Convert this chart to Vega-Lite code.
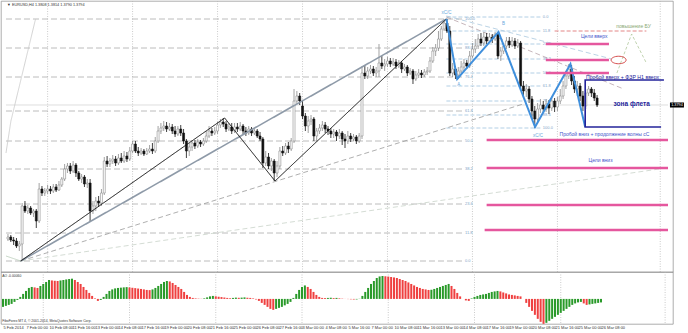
{
"$schema":"https://vega.github.io/schema/vega-lite/v6.json",
"padding":0,
"background":"white",
"spacing":0,
"bounds":"flush",
"config":{"font":"Liberation Sans","view":{"stroke":"#8a8a8a","strokeWidth":0.7},"axis":{"labelFont":"Liberation Sans"}},
"datasets":{
"bars":[
{"i":0,"o":1.3526,"h":1.3536,"l":1.3522,"c":1.3530,"a":-0.00136,"u":1},
{"i":1,"o":1.3530,"h":1.3534,"l":1.3520,"c":1.3524,"a":-0.00119,"u":1},
{"i":2,"o":1.3524,"h":1.3530,"l":1.3514,"c":1.3522,"a":-0.00102,"u":1},
{"i":3,"o":1.3522,"h":1.3528,"l":1.3508,"c":1.3512,"a":-0.00085,"u":1},
{"i":4,"o":1.3512,"h":1.3522,"l":1.3502,"c":1.3516,"a":-0.00051,"u":1},
{"i":5,"o":1.3516,"h":1.3598,"l":1.3482,"c":1.3592,"a":-0.00017,"u":1},
{"i":6,"o":1.3592,"h":1.3602,"l":1.3578,"c":1.3582,"a":0.00034,"u":1},
{"i":7,"o":1.3582,"h":1.3594,"l":1.3576,"c":1.3588,"a":0.00085,"u":1},
{"i":8,"o":1.3588,"h":1.3592,"l":1.3574,"c":1.3578,"a":0.00136,"u":1},
{"i":9,"o":1.3578,"h":1.3586,"l":1.3570,"c":1.3582,"a":0.00187,"u":1},
{"i":10,"o":1.3582,"h":1.3586,"l":1.3548,"c":1.3562,"a":0.00204,"u":1},
{"i":11,"o":1.3562,"h":1.3638,"l":1.3558,"c":1.3626,"a":0.00196,"u":0},
{"i":12,"o":1.3626,"h":1.3632,"l":1.3612,"c":1.3618,"a":0.00187,"u":0},
{"i":13,"o":1.3618,"h":1.3628,"l":1.3612,"c":1.3622,"a":0.00221,"u":1},
{"i":14,"o":1.3622,"h":1.3634,"l":1.3616,"c":1.3626,"a":0.00255,"u":1},
{"i":15,"o":1.3626,"h":1.3632,"l":1.3616,"c":1.3622,"a":0.00289,"u":1},
{"i":16,"o":1.3622,"h":1.3636,"l":1.3618,"c":1.3630,"a":0.00323,"u":1},
{"i":17,"o":1.3630,"h":1.3636,"l":1.3620,"c":1.3624,"a":0.00315,"u":0},
{"i":18,"o":1.3624,"h":1.3642,"l":1.3622,"c":1.3634,"a":0.00309,"u":0},
{"i":19,"o":1.3634,"h":1.3650,"l":1.3630,"c":1.3646,"a":0.00306,"u":0},
{"i":20,"o":1.3646,"h":1.3676,"l":1.3642,"c":1.3666,"a":0.00315,"u":1},
{"i":21,"o":1.3666,"h":1.3678,"l":1.3658,"c":1.3672,"a":0.00323,"u":1},
{"i":22,"o":1.3672,"h":1.3678,"l":1.3656,"c":1.3662,"a":0.00332,"u":1},
{"i":23,"o":1.3662,"h":1.3682,"l":1.3658,"c":1.3674,"a":0.00340,"u":1},
{"i":24,"o":1.3674,"h":1.3678,"l":1.3650,"c":1.3658,"a":0.00345,"u":1},
{"i":25,"o":1.3658,"h":1.3662,"l":1.3642,"c":1.3646,"a":0.00323,"u":0},
{"i":26,"o":1.3646,"h":1.3656,"l":1.3638,"c":1.3650,"a":0.00289,"u":0},
{"i":27,"o":1.3650,"h":1.3654,"l":1.3630,"c":1.3636,"a":0.00255,"u":0},
{"i":28,"o":1.3636,"h":1.3646,"l":1.3628,"c":1.3638,"a":0.00204,"u":0},
{"i":29,"o":1.3638,"h":1.3646,"l":1.3562,"c":1.3582,"a":0.00153,"u":0},
{"i":30,"o":1.3582,"h":1.3602,"l":1.3576,"c":1.3592,"a":0.00102,"u":0},
{"i":31,"o":1.3592,"h":1.3610,"l":1.3582,"c":1.3602,"a":0.00051,"u":0},
{"i":32,"o":1.3602,"h":1.3612,"l":1.3590,"c":1.3598,"a":0.00009,"u":0},
{"i":33,"o":1.3598,"h":1.3626,"l":1.3592,"c":1.3618,"a":-0.00034,"u":0},
{"i":34,"o":1.3618,"h":1.3690,"l":1.3614,"c":1.3682,"a":-0.00017,"u":1},
{"i":35,"o":1.3682,"h":1.3692,"l":1.3670,"c":1.3676,"a":0.00034,"u":1},
{"i":36,"o":1.3676,"h":1.3688,"l":1.3670,"c":1.3682,"a":0.00085,"u":1},
{"i":37,"o":1.3682,"h":1.3694,"l":1.3676,"c":1.3686,"a":0.00136,"u":1},
{"i":38,"o":1.3686,"h":1.3692,"l":1.3672,"c":1.3678,"a":0.00162,"u":1},
{"i":39,"o":1.3678,"h":1.3696,"l":1.3674,"c":1.3688,"a":0.00179,"u":1},
{"i":40,"o":1.3688,"h":1.3698,"l":1.3678,"c":1.3682,"a":0.00187,"u":1},
{"i":41,"o":1.3682,"h":1.3702,"l":1.3678,"c":1.3692,"a":0.00192,"u":1},
{"i":42,"o":1.3692,"h":1.3700,"l":1.3680,"c":1.3686,"a":0.00197,"u":1},
{"i":43,"o":1.3686,"h":1.3710,"l":1.3682,"c":1.3702,"a":0.00201,"u":1},
{"i":44,"o":1.3702,"h":1.3722,"l":1.3698,"c":1.3716,"a":0.00196,"u":0},
{"i":45,"o":1.3716,"h":1.3722,"l":1.3698,"c":1.3702,"a":0.00190,"u":0},
{"i":46,"o":1.3702,"h":1.3710,"l":1.3692,"c":1.3698,"a":0.00184,"u":0},
{"i":47,"o":1.3698,"h":1.3708,"l":1.3694,"c":1.3702,"a":0.00177,"u":0},
{"i":48,"o":1.3702,"h":1.3706,"l":1.3692,"c":1.3696,"a":0.00170,"u":0},
{"i":49,"o":1.3696,"h":1.3708,"l":1.3694,"c":1.3702,"a":0.00162,"u":0},
{"i":50,"o":1.3702,"h":1.3714,"l":1.3698,"c":1.3706,"a":0.00153,"u":0},
{"i":51,"o":1.3706,"h":1.3718,"l":1.3696,"c":1.3702,"a":0.00150,"u":0},
{"i":52,"o":1.3702,"h":1.3730,"l":1.3698,"c":1.3722,"a":0.00162,"u":1},
{"i":53,"o":1.3722,"h":1.3752,"l":1.3718,"c":1.3742,"a":0.00187,"u":1},
{"i":54,"o":1.3742,"h":1.3758,"l":1.3736,"c":1.3748,"a":0.00221,"u":1},
{"i":55,"o":1.3748,"h":1.3762,"l":1.3742,"c":1.3752,"a":0.00255,"u":1},
{"i":56,"o":1.3752,"h":1.3760,"l":1.3740,"c":1.3746,"a":0.00289,"u":1},
{"i":57,"o":1.3746,"h":1.3758,"l":1.3742,"c":1.3750,"a":0.00306,"u":1},
{"i":58,"o":1.3750,"h":1.3756,"l":1.3736,"c":1.3742,"a":0.00298,"u":0},
{"i":59,"o":1.3742,"h":1.3752,"l":1.3730,"c":1.3736,"a":0.00272,"u":0},
{"i":60,"o":1.3736,"h":1.3752,"l":1.3732,"c":1.3746,"a":0.00238,"u":0},
{"i":61,"o":1.3746,"h":1.3754,"l":1.3732,"c":1.3738,"a":0.00204,"u":0},
{"i":62,"o":1.3738,"h":1.3746,"l":1.3716,"c":1.3722,"a":0.00170,"u":0},
{"i":63,"o":1.3722,"h":1.3726,"l":1.3688,"c":1.3702,"a":0.00119,"u":0},
{"i":64,"o":1.3702,"h":1.3718,"l":1.3692,"c":1.3710,"a":0.00068,"u":0},
{"i":65,"o":1.3710,"h":1.3724,"l":1.3702,"c":1.3718,"a":0.00034,"u":0},
{"i":66,"o":1.3718,"h":1.3724,"l":1.3706,"c":1.3712,"a":0.00017,"u":0},
{"i":67,"o":1.3712,"h":1.3726,"l":1.3708,"c":1.3720,"a":0.00009,"u":0},
{"i":68,"o":1.3720,"h":1.3724,"l":1.3710,"c":1.3716,"a":0.00005,"u":0},
{"i":69,"o":1.3716,"h":1.3728,"l":1.3712,"c":1.3722,"a":0.00003,"u":0},
{"i":70,"o":1.3722,"h":1.3742,"l":1.3718,"c":1.3732,"a":0.00010,"u":1},
{"i":71,"o":1.3732,"h":1.3752,"l":1.3728,"c":1.3742,"a":0.00026,"u":1},
{"i":72,"o":1.3742,"h":1.3748,"l":1.3732,"c":1.3738,"a":0.00043,"u":1},
{"i":73,"o":1.3738,"h":1.3750,"l":1.3734,"c":1.3742,"a":0.00051,"u":1},
{"i":74,"o":1.3742,"h":1.3760,"l":1.3736,"c":1.3754,"a":0.00044,"u":0},
{"i":75,"o":1.3754,"h":1.3766,"l":1.3748,"c":1.3760,"a":0.00037,"u":0},
{"i":76,"o":1.3760,"h":1.3768,"l":1.3750,"c":1.3756,"a":0.00031,"u":0},
{"i":77,"o":1.3756,"h":1.3762,"l":1.3740,"c":1.3746,"a":0.00024,"u":0},
{"i":78,"o":1.3746,"h":1.3758,"l":1.3742,"c":1.3750,"a":0.00017,"u":0},
{"i":79,"o":1.3750,"h":1.3758,"l":1.3736,"c":1.3742,"a":0.00012,"u":0},
{"i":80,"o":1.3742,"h":1.3758,"l":1.3738,"c":1.3750,"a":0.00017,"u":1},
{"i":81,"o":1.3750,"h":1.3758,"l":1.3740,"c":1.3746,"a":0.00022,"u":1},
{"i":82,"o":1.3746,"h":1.3760,"l":1.3742,"c":1.3752,"a":0.00019,"u":0},
{"i":83,"o":1.3752,"h":1.3756,"l":1.3736,"c":1.3742,"a":0.00022,"u":1},
{"i":84,"o":1.3742,"h":1.3750,"l":1.3732,"c":1.3738,"a":0.00026,"u":1},
{"i":85,"o":1.3738,"h":1.3752,"l":1.3734,"c":1.3746,"a":0.00020,"u":0},
{"i":86,"o":1.3746,"h":1.3750,"l":1.3732,"c":1.3738,"a":0.00017,"u":0},
{"i":87,"o":1.3738,"h":1.3748,"l":1.3734,"c":1.3742,"a":0.00009,"u":0},
{"i":88,"o":1.3742,"h":1.3746,"l":1.3728,"c":1.3732,"a":-0.00009,"u":0},
{"i":89,"o":1.3732,"h":1.3740,"l":1.3722,"c":1.3726,"a":-0.00034,"u":0},
{"i":90,"o":1.3726,"h":1.3730,"l":1.3668,"c":1.3678,"a":-0.00068,"u":0},
{"i":91,"o":1.3678,"h":1.3702,"l":1.3672,"c":1.3690,"a":-0.00102,"u":0},
{"i":92,"o":1.3690,"h":1.3698,"l":1.3666,"c":1.3672,"a":-0.00136,"u":0},
{"i":93,"o":1.3672,"h":1.3688,"l":1.3662,"c":1.3682,"a":-0.00170,"u":0},
{"i":94,"o":1.3682,"h":1.3686,"l":1.3642,"c":1.3658,"a":-0.00187,"u":0},
{"i":95,"o":1.3658,"h":1.3682,"l":1.3650,"c":1.3672,"a":-0.00170,"u":1},
{"i":96,"o":1.3672,"h":1.3710,"l":1.3666,"c":1.3702,"a":-0.00153,"u":1},
{"i":97,"o":1.3702,"h":1.3712,"l":1.3692,"c":1.3698,"a":-0.00136,"u":1},
{"i":98,"o":1.3698,"h":1.3718,"l":1.3694,"c":1.3712,"a":-0.00110,"u":1},
{"i":99,"o":1.3712,"h":1.3720,"l":1.3698,"c":1.3706,"a":-0.00085,"u":1},
{"i":100,"o":1.3706,"h":1.3728,"l":1.3702,"c":1.3722,"a":-0.00051,"u":1},
{"i":101,"o":1.3722,"h":1.3826,"l":1.3718,"c":1.3802,"a":0.00017,"u":1},
{"i":102,"o":1.3802,"h":1.3822,"l":1.3796,"c":1.3812,"a":0.00085,"u":1},
{"i":103,"o":1.3812,"h":1.3818,"l":1.3794,"c":1.3802,"a":0.00153,"u":1},
{"i":104,"o":1.3792,"h":1.3802,"l":1.3766,"c":1.3772,"a":0.00204,"u":1},
{"i":105,"o":1.3772,"h":1.3778,"l":1.3742,"c":1.3752,"a":0.00230,"u":1},
{"i":106,"o":1.3752,"h":1.3772,"l":1.3738,"c":1.3762,"a":0.00204,"u":0},
{"i":107,"o":1.3762,"h":1.3774,"l":1.3754,"c":1.3766,"a":0.00170,"u":0},
{"i":108,"o":1.3766,"h":1.3770,"l":1.3722,"c":1.3732,"a":0.00119,"u":0},
{"i":109,"o":1.3732,"h":1.3748,"l":1.3722,"c":1.3742,"a":0.00068,"u":0},
{"i":110,"o":1.3742,"h":1.3756,"l":1.3736,"c":1.3748,"a":0.00034,"u":0},
{"i":111,"o":1.3748,"h":1.3762,"l":1.3742,"c":1.3754,"a":0.00017,"u":0},
{"i":112,"o":1.3754,"h":1.3760,"l":1.3738,"c":1.3746,"a":0.00014,"u":0},
{"i":113,"o":1.3746,"h":1.3752,"l":1.3734,"c":1.3742,"a":0.00017,"u":1},
{"i":114,"o":1.3742,"h":1.3748,"l":1.3728,"c":1.3736,"a":0.00020,"u":1},
{"i":115,"o":1.3736,"h":1.3746,"l":1.3728,"c":1.3740,"a":0.00014,"u":0},
{"i":116,"o":1.3740,"h":1.3744,"l":1.3722,"c":1.3732,"a":0.00017,"u":1},
{"i":117,"o":1.3732,"h":1.3746,"l":1.3726,"c":1.3738,"a":0.00010,"u":0},
{"i":118,"o":1.3738,"h":1.3742,"l":1.3714,"c":1.3726,"a":0.00005,"u":0},
{"i":119,"o":1.3726,"h":1.3736,"l":1.3708,"c":1.3722,"a":0.00001,"u":0},
{"i":120,"o":1.3722,"h":1.3742,"l":1.3716,"c":1.3732,"a":-0.00003,"u":0},
{"i":121,"o":1.3732,"h":1.3738,"l":1.3720,"c":1.3726,"a":-0.00007,"u":0},
{"i":122,"o":1.3726,"h":1.3736,"l":1.3722,"c":1.3730,"a":-0.00010,"u":0},
{"i":123,"o":1.3730,"h":1.3734,"l":1.3716,"c":1.3722,"a":-0.00009,"u":1},
{"i":124,"o":1.3722,"h":1.3738,"l":1.3718,"c":1.3732,"a":0.00003,"u":1},
{"i":125,"o":1.3732,"h":1.3872,"l":1.3726,"c":1.3858,"a":0.00051,"u":1},
{"i":126,"o":1.3858,"h":1.3874,"l":1.3846,"c":1.3852,"a":0.00119,"u":1},
{"i":127,"o":1.3852,"h":1.3870,"l":1.3846,"c":1.3862,"a":0.00187,"u":1},
{"i":128,"o":1.3862,"h":1.3874,"l":1.3856,"c":1.3866,"a":0.00255,"u":1},
{"i":129,"o":1.3866,"h":1.3872,"l":1.3852,"c":1.3858,"a":0.00306,"u":1},
{"i":130,"o":1.3858,"h":1.3870,"l":1.3850,"c":1.3862,"a":0.00357,"u":1},
{"i":131,"o":1.3862,"h":1.3916,"l":1.3850,"c":1.3878,"a":0.00383,"u":1},
{"i":132,"o":1.3878,"h":1.3892,"l":1.3866,"c":1.3872,"a":0.00391,"u":1},
{"i":133,"o":1.3872,"h":1.3886,"l":1.3862,"c":1.3876,"a":0.00386,"u":0},
{"i":134,"o":1.3876,"h":1.3890,"l":1.3870,"c":1.3882,"a":0.00381,"u":0},
{"i":135,"o":1.3882,"h":1.3888,"l":1.3870,"c":1.3876,"a":0.00374,"u":0},
{"i":136,"o":1.3876,"h":1.3888,"l":1.3872,"c":1.3880,"a":0.00366,"u":0},
{"i":137,"o":1.3880,"h":1.3886,"l":1.3866,"c":1.3872,"a":0.00357,"u":0},
{"i":138,"o":1.3872,"h":1.3884,"l":1.3868,"c":1.3878,"a":0.00340,"u":0},
{"i":139,"o":1.3878,"h":1.3882,"l":1.3858,"c":1.3866,"a":0.00323,"u":0},
{"i":140,"o":1.3866,"h":1.3876,"l":1.3862,"c":1.3870,"a":0.00306,"u":0},
{"i":141,"o":1.3870,"h":1.3874,"l":1.3852,"c":1.3858,"a":0.00281,"u":0},
{"i":142,"o":1.3858,"h":1.3868,"l":1.3854,"c":1.3862,"a":0.00255,"u":0},
{"i":143,"o":1.3862,"h":1.3866,"l":1.3836,"c":1.3846,"a":0.00230,"u":0},
{"i":144,"o":1.3846,"h":1.3862,"l":1.3842,"c":1.3854,"a":0.00204,"u":0},
{"i":145,"o":1.3854,"h":1.3866,"l":1.3848,"c":1.3858,"a":0.00187,"u":0},
{"i":146,"o":1.3858,"h":1.3864,"l":1.3848,"c":1.3854,"a":0.00170,"u":0},
{"i":147,"o":1.3854,"h":1.3866,"l":1.3850,"c":1.3860,"a":0.00162,"u":0},
{"i":148,"o":1.3860,"h":1.3870,"l":1.3854,"c":1.3862,"a":0.00153,"u":0},
{"i":149,"o":1.3862,"h":1.3890,"l":1.3858,"c":1.3882,"a":0.00156,"u":1},
{"i":150,"o":1.3882,"h":1.3910,"l":1.3878,"c":1.3902,"a":0.00170,"u":1},
{"i":151,"o":1.3902,"h":1.3916,"l":1.3892,"c":1.3908,"a":0.00187,"u":1},
{"i":152,"o":1.3908,"h":1.3942,"l":1.3902,"c":1.3926,"a":0.00204,"u":1},
{"i":153,"o":1.3926,"h":1.3952,"l":1.3922,"c":1.3946,"a":0.00221,"u":1},
{"i":154,"o":1.3946,"h":1.3966,"l":1.3942,"c":1.3958,"a":0.00238,"u":1},
{"i":155,"o":1.3958,"h":1.3966,"l":1.3938,"c":1.3942,"a":0.00255,"u":1},
{"i":156,"o":1.3942,"h":1.3952,"l":1.3852,"c":1.3858,"a":0.00221,"u":0},
{"i":157,"o":1.3858,"h":1.3878,"l":1.3850,"c":1.3866,"a":0.00170,"u":0},
{"i":158,"o":1.3866,"h":1.3872,"l":1.3846,"c":1.3854,"a":0.00102,"u":0},
{"i":159,"o":1.3854,"h":1.3870,"l":1.3846,"c":1.3862,"a":0.00043,"u":0},
{"i":160,"o":1.3862,"h":1.3882,"l":1.3858,"c":1.3870,"a":0.00000,"u":0},
{"i":161,"o":1.3870,"h":1.3886,"l":1.3862,"c":1.3878,"a":-0.00026,"u":0},
{"i":162,"o":1.3878,"h":1.3884,"l":1.3866,"c":1.3872,"a":-0.00034,"u":0},
{"i":163,"o":1.3872,"h":1.3902,"l":1.3868,"c":1.3892,"a":0.00009,"u":1},
{"i":164,"o":1.3892,"h":1.3918,"l":1.3888,"c":1.3906,"a":0.00034,"u":1},
{"i":165,"o":1.3906,"h":1.3926,"l":1.3898,"c":1.3912,"a":0.00051,"u":1},
{"i":166,"o":1.3912,"h":1.3936,"l":1.3906,"c":1.3926,"a":0.00068,"u":1},
{"i":167,"o":1.3926,"h":1.3938,"l":1.3912,"c":1.3918,"a":0.00077,"u":1},
{"i":168,"o":1.3918,"h":1.3940,"l":1.3912,"c":1.3930,"a":0.00085,"u":1},
{"i":169,"o":1.3930,"h":1.3938,"l":1.3916,"c":1.3922,"a":0.00102,"u":1},
{"i":170,"o":1.3922,"h":1.3938,"l":1.3918,"c":1.3930,"a":0.00119,"u":1},
{"i":171,"o":1.3930,"h":1.3936,"l":1.3918,"c":1.3926,"a":0.00128,"u":1},
{"i":172,"o":1.3926,"h":1.3940,"l":1.3922,"c":1.3936,"a":0.00136,"u":1},
{"i":173,"o":1.3936,"h":1.3940,"l":1.3886,"c":1.3892,"a":0.00128,"u":0},
{"i":174,"o":1.3892,"h":1.3910,"l":1.3882,"c":1.3902,"a":0.00110,"u":0},
{"i":175,"o":1.3902,"h":1.3918,"l":1.3896,"c":1.3912,"a":0.00094,"u":0},
{"i":176,"o":1.3912,"h":1.3930,"l":1.3906,"c":1.3922,"a":0.00077,"u":0},
{"i":177,"o":1.3922,"h":1.3930,"l":1.3908,"c":1.3914,"a":0.00068,"u":0},
{"i":178,"o":1.3914,"h":1.3930,"l":1.3910,"c":1.3922,"a":0.00060,"u":0},
{"i":179,"o":1.3922,"h":1.3928,"l":1.3906,"c":1.3912,"a":0.00051,"u":0},
{"i":180,"o":1.3912,"h":1.3926,"l":1.3908,"c":1.3918,"a":0.00043,"u":0},
{"i":181,"o":1.3918,"h":1.3922,"l":1.3822,"c":1.3832,"a":0.00000,"u":0},
{"i":182,"o":1.3832,"h":1.3842,"l":1.3812,"c":1.3822,"a":-0.00068,"u":0},
{"i":183,"o":1.3822,"h":1.3836,"l":1.3810,"c":1.3826,"a":-0.00136,"u":0},
{"i":184,"o":1.3826,"h":1.3832,"l":1.3798,"c":1.3806,"a":-0.00204,"u":0},
{"i":185,"o":1.3806,"h":1.3812,"l":1.3766,"c":1.3782,"a":-0.00272,"u":0},
{"i":186,"o":1.3782,"h":1.3792,"l":1.3748,"c":1.3766,"a":-0.00340,"u":0},
{"i":187,"o":1.3766,"h":1.3798,"l":1.3758,"c":1.3786,"a":-0.00391,"u":0},
{"i":188,"o":1.3786,"h":1.3806,"l":1.3778,"c":1.3794,"a":-0.00425,"u":0},
{"i":189,"o":1.3794,"h":1.3802,"l":1.3778,"c":1.3786,"a":-0.00408,"u":1},
{"i":190,"o":1.3786,"h":1.3806,"l":1.3780,"c":1.3796,"a":-0.00374,"u":1},
{"i":191,"o":1.3796,"h":1.3804,"l":1.3776,"c":1.3788,"a":-0.00340,"u":1},
{"i":192,"o":1.3788,"h":1.3810,"l":1.3782,"c":1.3802,"a":-0.00306,"u":1},
{"i":193,"o":1.3802,"h":1.3808,"l":1.3780,"c":1.3790,"a":-0.00272,"u":1},
{"i":194,"o":1.3790,"h":1.3810,"l":1.3782,"c":1.3802,"a":-0.00238,"u":1},
{"i":195,"o":1.3802,"h":1.3826,"l":1.3796,"c":1.3812,"a":-0.00204,"u":1},
{"i":196,"o":1.3812,"h":1.3842,"l":1.3806,"c":1.3832,"a":-0.00170,"u":1},
{"i":197,"o":1.3832,"h":1.3862,"l":1.3826,"c":1.3852,"a":-0.00136,"u":1},
{"i":198,"o":1.3852,"h":1.3876,"l":1.3846,"c":1.3866,"a":-0.00102,"u":1},
{"i":199,"o":1.3866,"h":1.3874,"l":1.3834,"c":1.3842,"a":-0.00077,"u":1},
{"i":200,"o":1.3842,"h":1.3852,"l":1.3818,"c":1.3826,"a":-0.00060,"u":1},
{"i":201,"o":1.3826,"h":1.3842,"l":1.3812,"c":1.3832,"a":-0.00051,"u":1},
{"i":202,"o":1.3832,"h":1.3838,"l":1.3802,"c":1.3812,"a":-0.00077,"u":0},
{"i":203,"o":1.3812,"h":1.3822,"l":1.3782,"c":1.3792,"a":-0.00102,"u":0},
{"i":204,"o":1.3792,"h":1.3826,"l":1.3786,"c":1.3818,"a":-0.00094,"u":1},
{"i":205,"o":1.3818,"h":1.3832,"l":1.3812,"c":1.3826,"a":-0.00085,"u":1},
{"i":206,"o":1.3826,"h":1.3830,"l":1.3810,"c":1.3818,"a":-0.00077,"u":1},
{"i":207,"o":1.3818,"h":1.3826,"l":1.3802,"c":1.3808,"a":-0.00068,"u":1},
{"i":208,"o":1.3808,"h":1.3814,"l":1.3790,"c":1.3794,"a":-0.00060,"u":1}
],
"weeks":[{"i":14},{"i":44},{"i":74},{"i":104},{"i":134},{"i":164},{"i":194},{"i":230.3}],
"dates":[
{"i":0,"t":"5 Feb 2014"},{"i":8,"t":"7 Feb 00:00"},{"i":16,"t":"10 Feb 08:00"},{"i":24,"t":"11 Feb 16:00"},{"i":32,"t":"13 Feb 00:00"},{"i":40,"t":"14 Feb 08:00"},{"i":48,"t":"17 Feb 16:00"},{"i":56,"t":"19 Feb 00:00"},{"i":64,"t":"20 Feb 08:00"},{"i":72,"t":"21 Feb 16:00"},{"i":80,"t":"25 Feb 00:00"},{"i":88,"t":"26 Feb 08:00"},{"i":96,"t":"27 Feb 16:00"},{"i":104,"t":"3 Mar 00:00"},{"i":112,"t":"4 Mar 08:00"},{"i":120,"t":"5 Mar 16:00"},{"i":128,"t":"7 Mar 00:00"},{"i":136,"t":"10 Mar 08:00"},{"i":144,"t":"11 Mar 16:00"},{"i":152,"t":"13 Mar 00:00"},{"i":160,"t":"14 Mar 08:00"},{"i":168,"t":"17 Mar 16:00"},{"i":176,"t":"19 Mar 00:00"},{"i":184,"t":"20 Mar 08:00"},{"i":192,"t":"21 Mar 16:00"},{"i":200,"t":"25 Mar 00:00"},{"i":208,"t":"26 Mar 08:00"}
],
"lines":[
{"id":"trend","k":0,"i":4.5,"p":1.3482},{"id":"trend","k":1,"i":154.8,"p":1.3966},
{"id":"zz","k":0,"i":4.5,"p":1.3482},{"id":"zz","k":1,"i":76.5,"p":1.3768},{"id":"zz","k":2,"i":94.3,"p":1.3642},{"id":"zz","k":3,"i":154.8,"p":1.3966},
{"id":"blue","k":0,"i":154.8,"p":1.3966},{"id":"blue","k":1,"i":158.6,"p":1.3846},{"id":"blue","k":2,"i":173.2,"p":1.3940},{"id":"blue","k":3,"i":186.1,"p":1.3750},{"id":"blue","k":4,"i":198.6,"p":1.3876},{"id":"blue","k":5,"i":203.8,"p":1.3750},
{"id":"navy","k":0,"i":231.6,"p":1.3844},{"id":"navy","k":1,"i":203.8,"p":1.3844},{"id":"navy","k":2,"i":203.8,"p":1.3750},{"id":"navy","k":3,"i":230.6,"p":1.3750},
{"id":"asc1","k":0,"i":4.5,"p":1.3482},{"id":"asc1","k":1,"i":181.9,"p":1.3796},
{"id":"asc2","k":0,"i":4.5,"p":1.3482},{"id":"asc2","k":1,"i":229.9,"p":1.3666},
{"id":"desc1","k":0,"i":154.8,"p":1.3972},{"id":"desc1","k":1,"i":213.2,"p":1.3886},
{"id":"desc2","k":0,"i":154.8,"p":1.3970},{"id":"desc2","k":1,"i":217.4,"p":1.3826},
{"id":"steep","k":0,"i":-0.7,"p":1.3698},{"id":"steep","k":1,"i":1.04,"p":1.3762},{"id":"steep","k":2,"i":9.74,"p":1.3966},
{"id":"arc","k":0,"i":-0.7,"p":1.3492},{"id":"arc","k":1,"i":4.5,"p":1.3482},
{"id":"caret","k":0,"i":215,"p":1.3858},{"id":"caret","k":1,"i":220.2,"p":1.3936},{"id":"caret","k":2,"i":225.4,"p":1.3878}
],
"segs":[
{"id":"fl","i1":-0.7,"i2":161,"p":1.3966,"t":"100.0"},
{"id":"fl","i1":-0.7,"i2":161,"p":1.3908,"t":"88.6"},
{"id":"fl","i1":-0.7,"i2":161,"p":1.3850,"t":"76.4"},
{"id":"fl","i1":-0.7,"i2":161,"p":1.3782,"t":"61.8"},
{"id":"fl","i1":-0.7,"i2":161,"p":1.3722,"t":"50.0"},
{"id":"fl","i1":-0.7,"i2":161,"p":1.3666,"t":"38.2"},
{"id":"fl","i1":-0.7,"i2":161,"p":1.3596,"t":"23.6"},
{"id":"fl","i1":-0.7,"i2":161,"p":1.3538,"t":"11.8"},
{"id":"fl","i1":-0.7,"i2":161,"p":1.3482,"t":"0.0"},
{"id":"fr","i1":154.8,"i2":188.5,"p":1.3970,"t":"0.0"},
{"id":"fr","i1":154.8,"i2":188.5,"p":1.3942,"t":"11.8"},
{"id":"fr","i1":154.8,"i2":188.5,"p":1.3916,"t":"23.6"},
{"id":"fr","i1":154.8,"i2":188.5,"p":1.3886,"t":"38.2"},
{"id":"fr","i1":154.8,"i2":188.5,"p":1.3858,"t":"50.0"},
{"id":"fr","i1":154.8,"i2":188.5,"p":1.3832,"t":"61.8"},
{"id":"fr","i1":154.8,"i2":188.5,"p":1.3802,"t":"76.4"},
{"id":"fr","i1":154.8,"i2":188.5,"p":1.3774,"t":"88.6"},
{"id":"fr","i1":154.8,"i2":188.5,"p":1.3748,"t":"100.0"},
{"id":"pr","i1":-0.7,"i2":233.04,"p":1.3794,"t":""},
{"id":"pu","i1":189.9,"i2":212.2,"p":1.3916,"t":""},
{"id":"pu","i1":189.9,"i2":212.2,"p":1.3884,"t":""},
{"id":"pu","i1":189.9,"i2":212.2,"p":1.3858,"t":""},
{"id":"pl","i1":169,"i2":233.04,"p":1.3724,"t":""},
{"id":"pl","i1":169,"i2":233.04,"p":1.3668,"t":""},
{"id":"pl","i1":169,"i2":233.04,"p":1.3594,"t":""},
{"id":"pl","i1":168.3,"i2":233.04,"p":1.3544,"t":""},
{"id":"bu","i1":193,"i2":225.4,"p":1.3942,"t":""}
],
"notes":[
{"t":"xC/C","i":154.8,"p":1.3979,"g":"lb"},
{"t":"A","i":159.2,"p":1.3834,"g":"lb"},
{"t":"B","i":175,"p":1.3956,"g":"lb"},
{"t":"xC/C","i":187.1,"p":1.3732,"g":"lb"},
{"t":"Цели вверх","i":207,"p":1.3932,"g":"blue"},
{"t":"Цели вниз","i":209.2,"p":1.3684,"g":"blue"},
{"t":"Пробой вниз + продолжение волны сС","i":210.6,"p":1.3737,"g":"blue"},
{"t":"Пробой вверх + ФЗР Н1 вверх","i":217,"p":1.3851,"g":"navy"},
{"t":"зона флета","i":220.2,"p":1.3796,"g":"navyb"},
{"t":"повышение БУ","i":220.9,"p":1.3952,"g":"green"}
],
"mark":[{"i":215.6,"p":1.3884}],
"header":[{"t":"▼ EURUSD,H4  1.3808 1.3814 1.3790 1.3794","i":-0.3,"p":1.3994}],
"last":[{"i":236.2,"p":1.3794,"t":"1.3794"}],
"aonotes":[{"t":"AO -0.00060","i":-0.3,"a":0.0039},{"t":"FiboForex MT 4, © 2001-2014, MetaQuotes Software Corp.","i":-0.3,"a":-0.0037}]
},
"vconcat":[
{
"width":672,"height":271,
"layer":[
{"data":{"name":"weeks"},"mark":{"type":"rule","color":"#b5b5b5","strokeWidth":0.7,"strokeDash":[1,1.5]},
 "encoding":{"x":{"field":"i","type":"quantitative","scale":{"domain":[-0.6957,233.04],"nice":false,"zero":false},"axis":null}}},
{"data":{"name":"segs"},"transform":[{"filter":"datum.id=='fl'||datum.id=='fr'||datum.id=='pr'"}],"mark":{"type":"rule"},
 "encoding":{"x":{"field":"i1","type":"quantitative","scale":{"domain":[-0.6957,233.04],"nice":false,"zero":false},"axis":null},"x2":{"field":"i2"},
 "y":{"field":"p","type":"quantitative","scale":{"domain":[1.346,1.4002],"nice":false,"zero":false},"axis":null},
 "color":{"field":"id","type":"nominal","scale":{"domain":["trend","zz","blue","navy","asc1","asc2","desc1","desc2","steep","arc","caret","pu","pl","bu","fl","fr","pr"],"range":["#8e9aa8","#111111","#3f8fdc","#23239a","#9a9a9a","#c9d3c9","#a9c8de","#b8a3aa","#c8c8c8","#b8ccb8","#b0c89c","#e5579e","#e5579e","#e07878","#ababab","#9fc3de","#c8c8c8"]},"legend":null},
 "strokeWidth":{"field":"id","type":"nominal","scale":{"type":"ordinal","domain":["trend","zz","blue","navy","asc1","asc2","desc1","desc2","steep","arc","caret","pu","pl","bu","fl","fr","pr"],"range":[1.6,1,2,1.6,0.8,0.8,0.8,0.8,0.8,0.8,0.8,2.4,2.4,0.9,0.8,0.8,0.6]},"legend":null},
 "strokeDash":{"field":"id","type":"nominal","scale":{"domain":["trend","zz","blue","navy","asc1","asc2","desc1","desc2","steep","arc","caret","pu","pl","bu","fl","fr","pr"],"range":[[1,0],[1,0],[1,0],[1,0],[5,3],[5,3],[5,3],[5,3],[1,0],[1,0],[3,2],[1,0],[1,0],[4,2],[6,3],[4,2],[1,0]]},"legend":null}}},
{"data":{"name":"segs"},"transform":[{"filter":"datum.id=='fl'||datum.id=='fr'"}],"mark":{"type":"text","align":"left","baseline":"middle","fontSize":4,"color":"#7fa6c9","dx":1},
 "encoding":{"x":{"field":"i2","type":"quantitative","scale":{"domain":[-0.6957,233.04],"nice":false,"zero":false},"axis":null},
 "y":{"field":"p","type":"quantitative","scale":{"domain":[1.346,1.4002],"nice":false,"zero":false},"axis":null},"text":{"field":"t"}}},
{"data":{"name":"lines"},"transform":[{"filter":"indexof(['asc1','asc2','steep','arc','desc1','desc2'],datum.id)>=0"}],"mark":{"type":"line"},
 "encoding":{"x":{"field":"i","type":"quantitative","scale":{"domain":[-0.6957,233.04],"nice":false,"zero":false},"axis":null},
 "y":{"field":"p","type":"quantitative","scale":{"domain":[1.346,1.4002],"nice":false,"zero":false},"axis":null},
 "order":{"field":"k"},"detail":{"field":"id"},
 "color":{"field":"id","type":"nominal","scale":{"domain":["trend","zz","blue","navy","asc1","asc2","desc1","desc2","steep","arc","caret","pu","pl","bu","fl","fr","pr"],"range":["#8e9aa8","#111111","#3f8fdc","#23239a","#9a9a9a","#c9d3c9","#a9c8de","#b8a3aa","#c8c8c8","#b8ccb8","#b0c89c","#e5579e","#e5579e","#e07878","#ababab","#9fc3de","#c8c8c8"]},"legend":null},
 "strokeWidth":{"field":"id","type":"nominal","scale":{"type":"ordinal","domain":["trend","zz","blue","navy","asc1","asc2","desc1","desc2","steep","arc","caret","pu","pl","bu","fl","fr","pr"],"range":[1.6,1,2,1.6,0.8,0.8,0.8,0.8,0.8,0.8,0.8,2.4,2.4,0.9,0.8,0.8,0.6]},"legend":null},
 "strokeDash":{"field":"id","type":"nominal","scale":{"domain":["trend","zz","blue","navy","asc1","asc2","desc1","desc2","steep","arc","caret","pu","pl","bu","fl","fr","pr"],"range":[[1,0],[1,0],[1,0],[1,0],[5,3],[5,3],[5,3],[5,3],[1,0],[1,0],[3,2],[1,0],[1,0],[4,2],[6,3],[4,2],[1,0]]},"legend":null}}},
{"data":{"name":"bars"},"mark":{"type":"rule","strokeWidth":0.8},
 "encoding":{"x":{"field":"i","type":"quantitative","scale":{"domain":[-0.6957,233.04],"nice":false,"zero":false},"axis":null},
 "y":{"field":"l","type":"quantitative","scale":{"domain":[1.346,1.4002],"nice":false,"zero":false},
  "axis":{"orient":"right","title":null,"values":[1.3465,1.349,1.3515,1.354,1.3565,1.359,1.3615,1.364,1.3665,1.369,1.3715,1.374,1.3765,1.379,1.3815,1.384,1.3865,1.389,1.3915,1.394,1.3965,1.399],"format":".4f","labelFontSize":4,"labelColor":"#333","tickSize":1.5,"tickColor":"#777","labelPadding":0.5,"domain":false,"grid":false}},
 "y2":{"field":"h"},
 "color":{"condition":{"test":"datum.c>=datum.o","value":"#8c8c8c"},"value":"#111111"}}},
{"data":{"name":"bars"},"mark":{"type":"bar","size":2,"strokeWidth":0.6},
 "encoding":{"x":{"field":"i","type":"quantitative","scale":{"domain":[-0.6957,233.04],"nice":false,"zero":false},"axis":null},
 "y":{"field":"o","type":"quantitative","scale":{"domain":[1.346,1.4002],"nice":false,"zero":false},"axis":null},
 "y2":{"field":"c"},
 "fill":{"condition":{"test":"datum.c>=datum.o","value":"#ffffff"},"value":"#111111"},
 "stroke":{"condition":{"test":"datum.c>=datum.o","value":"#8c8c8c"},"value":"#111111"}}},
{"data":{"name":"lines"},"transform":[{"filter":"indexof(['trend','zz','blue','navy','caret'],datum.id)>=0"}],"mark":{"type":"line"},
 "encoding":{"x":{"field":"i","type":"quantitative","scale":{"domain":[-0.6957,233.04],"nice":false,"zero":false},"axis":null},
 "y":{"field":"p","type":"quantitative","scale":{"domain":[1.346,1.4002],"nice":false,"zero":false},"axis":null},
 "order":{"field":"k"},"detail":{"field":"id"},
 "color":{"field":"id","type":"nominal","scale":{"domain":["trend","zz","blue","navy","asc1","asc2","desc1","desc2","steep","arc","caret","pu","pl","bu","fl","fr","pr"],"range":["#8e9aa8","#111111","#3f8fdc","#23239a","#9a9a9a","#c9d3c9","#a9c8de","#b8a3aa","#c8c8c8","#b8ccb8","#b0c89c","#e5579e","#e5579e","#e07878","#ababab","#9fc3de","#c8c8c8"]},"legend":null},
 "strokeWidth":{"field":"id","type":"nominal","scale":{"type":"ordinal","domain":["trend","zz","blue","navy","asc1","asc2","desc1","desc2","steep","arc","caret","pu","pl","bu","fl","fr","pr"],"range":[1.6,1,2,1.6,0.8,0.8,0.8,0.8,0.8,0.8,0.8,2.4,2.4,0.9,0.8,0.8,0.6]},"legend":null},
 "strokeDash":{"field":"id","type":"nominal","scale":{"domain":["trend","zz","blue","navy","asc1","asc2","desc1","desc2","steep","arc","caret","pu","pl","bu","fl","fr","pr"],"range":[[1,0],[1,0],[1,0],[1,0],[5,3],[5,3],[5,3],[5,3],[1,0],[1,0],[3,2],[1,0],[1,0],[4,2],[6,3],[4,2],[1,0]]},"legend":null}}},
{"data":{"name":"segs"},"transform":[{"filter":"datum.id=='pu'||datum.id=='pl'||datum.id=='bu'"}],"mark":{"type":"rule"},
 "encoding":{"x":{"field":"i1","type":"quantitative","scale":{"domain":[-0.6957,233.04],"nice":false,"zero":false},"axis":null},"x2":{"field":"i2"},
 "y":{"field":"p","type":"quantitative","scale":{"domain":[1.346,1.4002],"nice":false,"zero":false},"axis":null},
 "color":{"field":"id","type":"nominal","scale":{"domain":["trend","zz","blue","navy","asc1","asc2","desc1","desc2","steep","arc","caret","pu","pl","bu","fl","fr","pr"],"range":["#8e9aa8","#111111","#3f8fdc","#23239a","#9a9a9a","#c9d3c9","#a9c8de","#b8a3aa","#c8c8c8","#b8ccb8","#b0c89c","#e5579e","#e5579e","#e07878","#ababab","#9fc3de","#c8c8c8"]},"legend":null},
 "strokeWidth":{"field":"id","type":"nominal","scale":{"type":"ordinal","domain":["trend","zz","blue","navy","asc1","asc2","desc1","desc2","steep","arc","caret","pu","pl","bu","fl","fr","pr"],"range":[1.6,1,2,1.6,0.8,0.8,0.8,0.8,0.8,0.8,0.8,2.4,2.4,0.9,0.8,0.8,0.6]},"legend":null},
 "strokeDash":{"field":"id","type":"nominal","scale":{"domain":["trend","zz","blue","navy","asc1","asc2","desc1","desc2","steep","arc","caret","pu","pl","bu","fl","fr","pr"],"range":[[1,0],[1,0],[1,0],[1,0],[5,3],[5,3],[5,3],[5,3],[1,0],[1,0],[3,2],[1,0],[1,0],[4,2],[6,3],[4,2],[1,0]]},"legend":null}}},
{"data":{"name":"mark"},"mark":{"type":"point","shape":"M-1,0A1,0.5,0,1,1,1,0A1,0.5,0,1,1,-1,0Z","size":225,"filled":false,"stroke":"#d03a3a","strokeWidth":0.9,"opacity":1},
 "encoding":{"x":{"field":"i","type":"quantitative","scale":{"domain":[-0.6957,233.04],"nice":false,"zero":false},"axis":null},
 "y":{"field":"p","type":"quantitative","scale":{"domain":[1.346,1.4002],"nice":false,"zero":false},"axis":null}}},
{"data":{"name":"notes"},"transform":[{"filter":"datum.g=='lb'"}],"mark":{"type":"text","fontSize":4.5,"color":"#68a8dc"},
 "encoding":{"x":{"field":"i","type":"quantitative","scale":{"domain":[-0.6957,233.04],"nice":false,"zero":false},"axis":null},
 "y":{"field":"p","type":"quantitative","scale":{"domain":[1.346,1.4002],"nice":false,"zero":false},"axis":null},"text":{"field":"t"}}},
{"data":{"name":"notes"},"transform":[{"filter":"datum.g=='blue'"}],"mark":{"type":"text","fontSize":5,"color":"#4455cc"},
 "encoding":{"x":{"field":"i","type":"quantitative","scale":{"domain":[-0.6957,233.04],"nice":false,"zero":false},"axis":null},
 "y":{"field":"p","type":"quantitative","scale":{"domain":[1.346,1.4002],"nice":false,"zero":false},"axis":null},"text":{"field":"t"}}},
{"data":{"name":"notes"},"transform":[{"filter":"datum.g=='navy'"}],"mark":{"type":"text","fontSize":5.2,"color":"#23239a"},
 "encoding":{"x":{"field":"i","type":"quantitative","scale":{"domain":[-0.6957,233.04],"nice":false,"zero":false},"axis":null},
 "y":{"field":"p","type":"quantitative","scale":{"domain":[1.346,1.4002],"nice":false,"zero":false},"axis":null},"text":{"field":"t"}}},
{"data":{"name":"notes"},"transform":[{"filter":"datum.g=='navyb'"}],"mark":{"type":"text","fontSize":6.5,"fontWeight":"bold","color":"#23239a"},
 "encoding":{"x":{"field":"i","type":"quantitative","scale":{"domain":[-0.6957,233.04],"nice":false,"zero":false},"axis":null},
 "y":{"field":"p","type":"quantitative","scale":{"domain":[1.346,1.4002],"nice":false,"zero":false},"axis":null},"text":{"field":"t"}}},
{"data":{"name":"notes"},"transform":[{"filter":"datum.g=='green'"}],"mark":{"type":"text","fontSize":5,"color":"#8aa872"},
 "encoding":{"x":{"field":"i","type":"quantitative","scale":{"domain":[-0.6957,233.04],"nice":false,"zero":false},"axis":null},
 "y":{"field":"p","type":"quantitative","scale":{"domain":[1.346,1.4002],"nice":false,"zero":false},"axis":null},"text":{"field":"t"}}},
{"data":{"name":"header"},"mark":{"type":"text","fontSize":3.8,"color":"#333","align":"left","baseline":"middle"},
 "encoding":{"x":{"field":"i","type":"quantitative","scale":{"domain":[-0.6957,233.04],"nice":false,"zero":false},"axis":null},
 "y":{"field":"p","type":"quantitative","scale":{"domain":[1.346,1.4002],"nice":false,"zero":false},"axis":null},"text":{"field":"t"}}},
{"data":{"name":"last"},"mark":{"type":"point","shape":"M-1,-0.36H1V0.36H-1Z","size":196,"filled":true,"color":"#000000","opacity":1},
 "encoding":{"x":{"field":"i","type":"quantitative","scale":{"domain":[-0.6957,233.04],"nice":false,"zero":false},"axis":null},
 "y":{"field":"p","type":"quantitative","scale":{"domain":[1.346,1.4002],"nice":false,"zero":false},"axis":null}}},
{"data":{"name":"last"},"mark":{"type":"text","fontSize":3.8,"color":"#ffffff"},
 "encoding":{"x":{"field":"i","type":"quantitative","scale":{"domain":[-0.6957,233.04],"nice":false,"zero":false},"axis":null},
 "y":{"field":"p","type":"quantitative","scale":{"domain":[1.346,1.4002],"nice":false,"zero":false},"axis":null},"text":{"field":"t"}}}
]
},
{
"width":672,"height":52,
"layer":[
{"data":{"name":"weeks"},"mark":{"type":"rule","color":"#b5b5b5","strokeWidth":0.7,"strokeDash":[1,1.5]},
 "encoding":{"x":{"field":"i","type":"quantitative","scale":{"domain":[-0.6957,233.04],"nice":false,"zero":false},"axis":null}}},
{"data":{"name":"bars"},"mark":{"type":"rule","strokeWidth":2},
 "encoding":{"x":{"field":"i","type":"quantitative","scale":{"domain":[-0.6957,233.04],"nice":false,"zero":false},
  "axis":{"orient":"bottom","title":null,"values":[0,8,16,24,32,40,48,56,64,72,80,88,96,104,112,120,128,136,144,152,160,168,176,184,192,200,208],"labels":false,"tickSize":1.5,"tickColor":"#777","domain":false,"grid":false}},
 "y":{"field":"a","type":"quantitative","scale":{"domain":[-0.00428,0.00459],"nice":false,"zero":false},
  "axis":{"orient":"right","title":null,"values":[0.00391,0,-0.00425],"labelExpr":"datum.value==0?'0.00':format(datum.value,'.5f')","labelFontSize":3.4,"labelColor":"#333","tickSize":1.5,"tickColor":"#777","labelPadding":0.5,"domain":false,"grid":false}},
 "y2":{"datum":0},
 "color":{"condition":{"test":"datum.u==1","value":"#2a9a2a"},"value":"#ef4040"}}},
{"data":{"name":"aonotes"},"mark":{"type":"text","fontSize":3.4,"color":"#333","align":"left","baseline":"middle"},
 "encoding":{"x":{"field":"i","type":"quantitative","scale":{"domain":[-0.6957,233.04],"nice":false,"zero":false},"axis":null},
 "y":{"field":"a","type":"quantitative","scale":{"domain":[-0.00428,0.00459],"nice":false,"zero":false},"axis":null},"text":{"field":"t"}}},
{"data":{"name":"dates"},"mark":{"type":"text","fontSize":4,"color":"#333","align":"left","baseline":"top","dy":1.5,"dx":0.5},
 "encoding":{"x":{"field":"i","type":"quantitative","scale":{"domain":[-0.6957,233.04],"nice":false,"zero":false},"axis":null},
 "y":{"value":"height"},"text":{"field":"t"}}}
]
}
]
}
